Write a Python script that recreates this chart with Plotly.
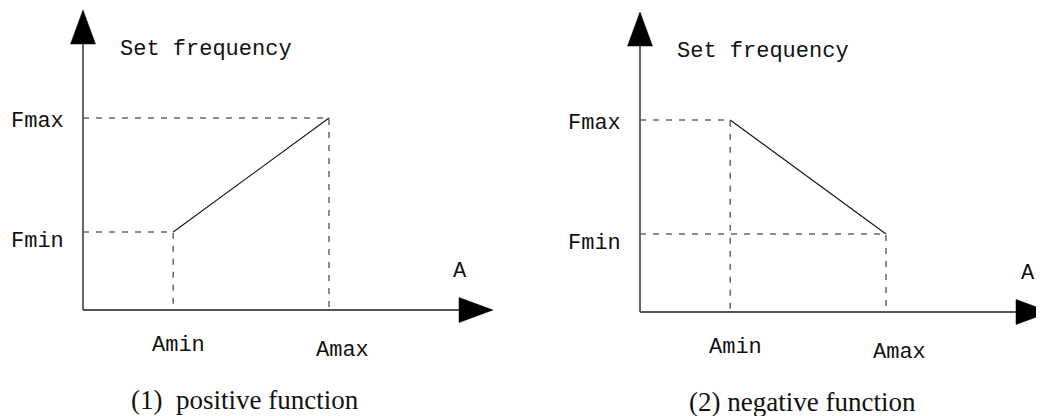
"""
Set frequency vs analog input A -- positive / negative function diagram.
Two side-by-side panels on hidden axes: axis arrows, dashed guide lines
to Fmin/Fmax and Amin/Amax, and the solid characteristic line.
"""
import plotly.graph_objects as go

# ── Data (diagram units: A axis 0..10, F axis 0..10) ─────────────────────
A_POINTS      = [2.2, 6.0]            # Amin, Amax
POSITIVE_F    = [2.6, 6.4]            # set freq at Amin, Amax (positive)
NEGATIVE_F    = [6.4, 2.6]            # set freq at Amin, Amax (negative)
A_AXIS_LEN    = [10.0, 10.0]          # left / right panel
F_AXIS_LEN    = [10.0, 10.0]
A_LABELS      = ["Amin", "Amax"]
F_LABELS      = ["Fmin", "Fmax"]
Y_TITLE       = "Set frequency"
X_TITLE       = "A"
CAPTIONS      = ["(1)\u00a0 positive function", "(2) negative function"]

# ── Geometry (page pixels; the page body has an 8px margin) ──────────────
PAGE_W, PAGE_H, BODY = 1044, 416, 8
W, H = PAGE_W - BODY, PAGE_H - BODY
PX_PER_A, PX_PER_F = 41.0, 30.0
ORIGINS = [(83, 310), (640, 312)]     # axis origin in page pixels
SPLIT = 522                           # page x where the two panels meet
HEAD_LEN, HEAD_HALF = 34, 12.5        # arrow head size in pixels

MONO  = dict(family="Liberation Mono, DejaVu Sans Mono, monospace", size=22, color="#111")
SERIF = dict(family="Liberation Serif, Times New Roman, serif", size=27, color="#111")

fig = go.Figure()
annotations = []
layout_axes = {}

for i, curve in enumerate([POSITIVE_F, NEGATIVE_F]):
    xa = "x" if i == 0 else "x2"
    ya = "y" if i == 0 else "y2"
    a0, a1 = A_POINTS
    f0, f1 = curve
    alen, flen = A_AXIS_LEN[i], F_AXIS_LEN[i]
    hl_a, hw_a = HEAD_LEN / PX_PER_A, HEAD_HALF / PX_PER_A
    hl_f, hw_f = HEAD_LEN / PX_PER_F, HEAD_HALF / PX_PER_F

    # axes
    fig.add_trace(go.Scatter(
        x=[0, 0, None, 0, alen - hl_a], y=[flen - hl_f, 0, None, 0, 0], xaxis=xa, yaxis=ya,
        mode="lines", line=dict(color="#555", width=1.8), hoverinfo="skip",
    ))
    # dashed guides
    fig.add_trace(go.Scatter(
        x=[0, a0, a0, None, 0, a1, a1], y=[f0, f0, 0, None, f1, f1, 0],
        xaxis=xa, yaxis=ya, mode="lines",
        line=dict(color="#666", width=1.5, dash="6px,7px"), hoverinfo="skip",
    ))
    # characteristic line
    fig.add_trace(go.Scatter(
        x=A_POINTS, y=curve, xaxis=xa, yaxis=ya, mode="lines",
        line=dict(color="#111", width=1.1), hoverinfo="skip",
    ))
    # arrow heads (filled triangles at the axis ends)
    fig.add_trace(go.Scatter(
        x=[0, -hw_a, hw_a, 0], y=[flen, flen - hl_f, flen - hl_f, flen],
        xaxis=xa, yaxis=ya, mode="lines", fill="toself", fillcolor="#000",
        line=dict(color="#000", width=0.5), hoverinfo="skip",
    ))
    fig.add_trace(go.Scatter(
        x=[alen, alen - hl_a, alen - hl_a, alen], y=[0, hw_f, -hw_f, 0],
        xaxis=xa, yaxis=ya, mode="lines", fill="toself", fillcolor="#000",
        line=dict(color="#000", width=0.5), hoverinfo="skip",
    ))

    # axis ranges so that data units land on the reference page pixels
    ox, oy = ORIGINS[i]
    p0, p1 = (BODY, SPLIT) if i == 0 else (SPLIT, PAGE_W)
    xr = [(p0 - ox) / PX_PER_A, (p1 - ox) / PX_PER_A]
    yr = [(oy - PAGE_H) / PX_PER_F, (oy - BODY) / PX_PER_F]
    dom = [(p0 - BODY) / W, (p1 - BODY) / W]
    sfx = "" if i == 0 else "2"
    layout_axes["xaxis" + sfx] = dict(domain=dom, range=xr, visible=False, fixedrange=True)
    layout_axes["yaxis" + sfx] = dict(domain=[0, 1], range=yr, visible=False, fixedrange=True,
                                      anchor=xa)

    # labels
    ref = dict(xref=xa, yref=ya, showarrow=False)
    annotations += [
        dict(x=0.85, y=8.67, text=Y_TITLE, xanchor="left", yanchor="middle", font=MONO, **ref),
        dict(x=-1.8, y=min(curve) - 0.3, text=F_LABELS[0], xanchor="left",
             yanchor="middle", font=MONO, **ref),
        dict(x=-1.8, y=max(curve) - 0.13, text=F_LABELS[1], xanchor="left",
             yanchor="middle", font=MONO, **ref),
        dict(x=a0 + 0.12, y=-1.17, text=A_LABELS[0], xanchor="center", yanchor="middle",
             font=MONO, **ref),
        dict(x=a1 + 0.33, y=-1.36, text=A_LABELS[1], xanchor="center", yanchor="middle",
             font=MONO, **ref),
        dict(x=9.2 if i == 0 else 9.46, y=1.3, text=X_TITLE, xanchor="center",
             yanchor="middle", font=MONO, **ref),
        dict(x=3.96, y=-3.0, text=CAPTIONS[i], xanchor="center", yanchor="middle",
             font=SERIF, **ref),
    ]

fig.update_layout(
    width=W, height=H, margin=dict(l=0, r=0, t=0, b=0),
    paper_bgcolor="white", plot_bgcolor="white", showlegend=False,
    annotations=annotations, **layout_axes,
)

fig.write_html("out.html")
